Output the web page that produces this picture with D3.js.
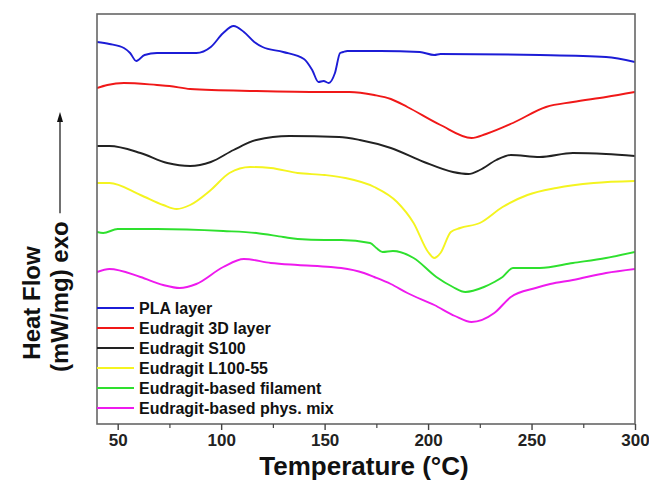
<!DOCTYPE html>
<html>
<head>
<meta charset="utf-8">
<script src="https://cdn.jsdelivr.net/npm/d3@7"></script>
<style>
  body { margin: 0; background: #fff; }
  svg { display: block; font-family: "Liberation Sans", Arial, sans-serif; }
</style>
</head>
<body>
<div id="chart"></div>
<script>
// Series names and colours (legend order)
const seriesNames = ["PLA layer", "Eudragit 3D layer", "Eudragit S100", "Eudragit L100-55",
                     "Eudragit-based filament", "Eudragit-based phys. mix"];
const seriesColors = ["#1c1cd6", "#f01818", "#222222", "#f4f420", "#2ee02e", "#ee1aee"];

// Heat flow traces, [temperature °C, heat flow (arb. units, curves offset)]
const plaLayer = [[40,382],[46,380],[53,376],[56,371],[59,363],[63,369],[69,371],[88,371],[95,377],
  [101,391],[106,398],[111,392],[116,382],[120,377],[130,372],[140,365],[144,354],[147,342],[149.5,343],
  [152,341],[155,351],[157.5,371],[159,372],[161,373],[177,373],[196,372],[203,369],[206,370],
  [254,369],[286,367],[300,362]];
const eudragit3D = [[40,336],[45,339],[53,341],[69,339],[75,338],[85,335],[117,333],[149,332],[162,332],
  [174,329],[182,325],[190,317],[206,299],[221,286],[228,290],[241,301],[257,317],[270,322],[286,327],[300,332]];
const eudragitS100 = [[40,278],[46,278],[61,271],[74,261],[85,258],[95,262],[106,274],[117,284],[133,288],
  [157,287],[167,284],[182,276],[198,262],[212,252],[219.5,250],[225,254],[233,264],[240,269],[254,267],
  [270,271],[286,270],[300,268]];
const eudragitL100 = [[40,241],[46,241],[61,229],[72,219],[78.5,215],[85,219],[95,234],[104,251],[114,257],
  [124,256],[137,251],[150,249],[160,246],[174,237],[185,222],[193,201],[200,172],[203,166],[206,171],
  [211,192],[215.5,196],[225,201],[236,217],[248,229],[262,236],[280,241],[300,243]];
const filament = [[40,192],[43,191],[50,195],[69,195],[101,193],[117,191],[130,187],[137,185],[150,184],
  [158,184],[172,181],[175,176],[178,172],[183,173],[193,166],[204,147],[212,137],[218,132],[227,137],
  [232,142],[236,147],[241,156],[254,156],[270,161],[286,166],[300,172]];
const physMix = [[40,152],[46,155],[61,147],[72,139],[80,136],[88,140],[101,157],[111,165],[124,161],
  [137,159],[153,157],[158,156],[169,151],[174,147],[182,140],[190,131],[203,119],[213,108],[221,102],
  [232,111],[240,127],[252,136],[259,140],[270,144],[286,151],[300,155]];
const seriesData = [plaLayer, eudragit3D, eudragitS100, eudragitL100, filament, physMix];

const majorTicks = [50, 100, 150, 200, 250, 300];
const minorTicks = [75, 125, 175, 225, 275];

const width = 649, height = 481;
const margin = { left: 97, right: 14, top: 14, bottom: 57 };

const svg = d3.select("#chart").append("svg")
  .attr("width", width)
  .attr("height", height);

const x = d3.scaleLinear().domain([40, 300]).range([margin.left, width - margin.right]);
const y = d3.scaleLinear().domain([0, 410]).range([height - margin.bottom, margin.top]);

svg.append("defs").append("clipPath").attr("id", "plot-clip")
  .append("rect")
  .attr("x", margin.left).attr("y", margin.top)
  .attr("width", width - margin.left - margin.right)
  .attr("height", height - margin.top - margin.bottom);

// Curves
const line = d3.line()
  .x(d => x(d[0]))
  .y(d => y(d[1]))
  .curve(d3.curveMonotoneX);

svg.append("g").attr("clip-path", "url(#plot-clip)")
  .selectAll("path")
  .data(seriesData)
  .enter()
  .append("path")
  .attr("d", line)
  .attr("fill", "none")
  .attr("stroke", (d, i) => seriesColors[i])
  .attr("stroke-width", 1.9)
  .attr("stroke-linejoin", "round");

// Frame
svg.append("rect")
  .attr("x", margin.left).attr("y", margin.top)
  .attr("width", width - margin.left - margin.right)
  .attr("height", height - margin.top - margin.bottom)
  .attr("fill", "none")
  .attr("stroke", "#666")
  .attr("stroke-width", 1.6);

// X axis, major and minor ticks
const xAxis = svg.append("g")
  .attr("transform", `translate(0,${height - margin.bottom})`)
  .call(d3.axisBottom(x).tickValues(majorTicks).tickSize(6).tickPadding(4));
xAxis.select(".domain").remove();
xAxis.selectAll("line").attr("stroke", "#444").attr("stroke-width", 1.4);
xAxis.selectAll("text")
  .attr("fill", "#222")
  .style("font-size", "17px")
  .style("font-weight", "bold")
  .style("font-family", "Liberation Sans, Arial, sans-serif");

const xMinor = svg.append("g")
  .attr("transform", `translate(0,${height - margin.bottom})`)
  .call(d3.axisBottom(x).tickValues(minorTicks).tickSize(4).tickFormat(""));
xMinor.select(".domain").remove();
xMinor.selectAll("line").attr("stroke", "#444").attr("stroke-width", 1.2);

// Axis titles
svg.append("text")
  .attr("x", (margin.left + width - margin.right) / 2 - 2)
  .attr("y", 475)
  .attr("text-anchor", "middle")
  .style("font-size", "26px")
  .style("font-weight", "bold")
  .attr("fill", "#111")
  .text("Temperature (°C)");

svg.append("text")
  .attr("transform", "translate(40,303) rotate(-90)")
  .attr("text-anchor", "middle")
  .style("font-size", "24px")
  .style("font-weight", "bold")
  .attr("fill", "#111")
  .text("Heat Flow");

const exoBottom = 372;
const exoText = svg.append("text")
  .attr("transform", `translate(68,${exoBottom}) rotate(-90)`)
  .attr("text-anchor", "start")
  .style("font-size", "24px")
  .style("font-weight", "bold")
  .attr("fill", "#111")
  .text("(mW/mg) exo");

const exoLen = exoText.node().getComputedTextLength();
const arrowX = 60;
const arrowStart = exoBottom - exoLen - 8;
svg.append("line")
  .attr("x1", arrowX).attr("x2", arrowX)
  .attr("y1", arrowStart).attr("y2", 120)
  .attr("stroke", "#111").attr("stroke-width", 1.2);
svg.append("path")
  .attr("d", `M${arrowX},112 L${arrowX - 3},122 L${arrowX + 3},122 Z`)
  .attr("fill", "#111");

// Legend
const legend = svg.append("g")
  .selectAll("g")
  .data(seriesNames)
  .enter()
  .append("g")
  .attr("transform", (d, i) => `translate(${margin.left},${308 + i * 20})`);

legend.append("line")
  .attr("x1", 0).attr("x2", 37)
  .attr("stroke", (d, i) => seriesColors[i])
  .attr("stroke-width", 2);

legend.append("text")
  .attr("x", 42)
  .attr("dy", "0.35em")
  .style("font-size", "16px")
  .style("font-weight", "bold")
  .attr("fill", "#111")
  .text(d => d);
</script>
</body>
</html>
